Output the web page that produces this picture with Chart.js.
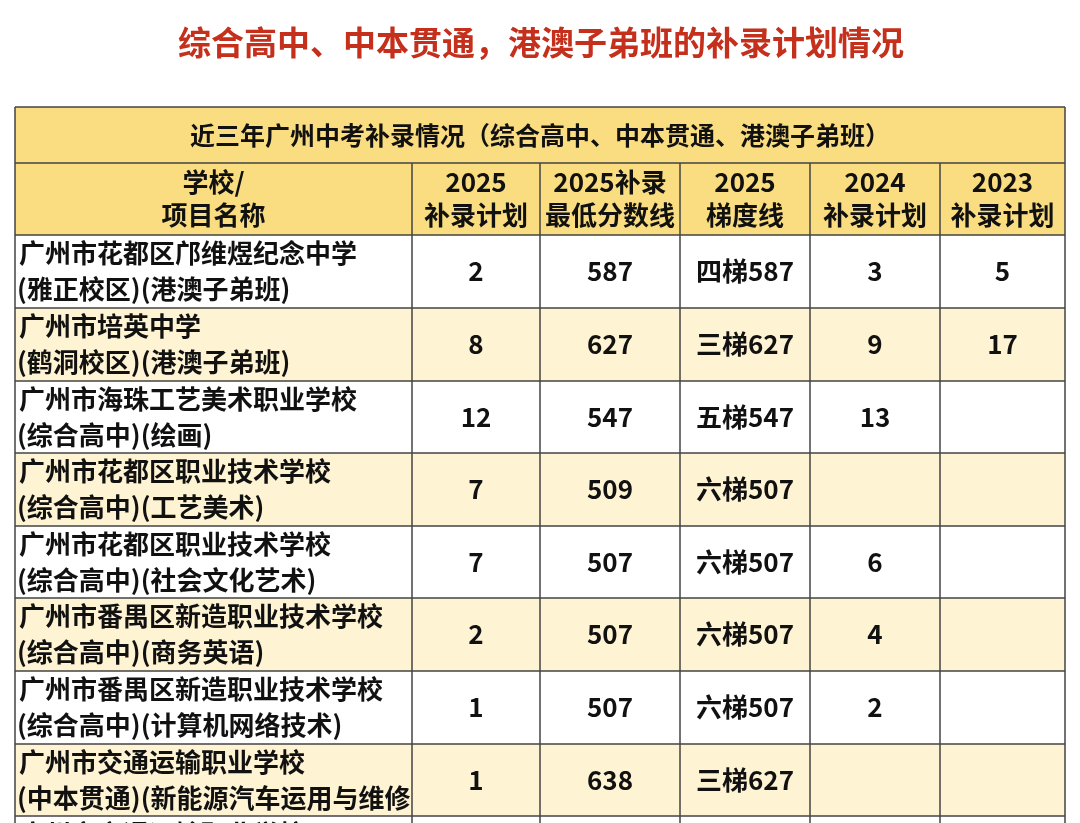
<!DOCTYPE html>
<html><head><meta charset="utf-8">
<script src="https://cdn.jsdelivr.net/npm/chart.js@4/dist/chart.umd.min.js"></script>
<style>html,body{margin:0;padding:0;background:#fff}#c{display:block}</style>
</head><body>
<div style="width:1080px;height:823px"><canvas id="c" width="1080" height="823"></canvas></div>
<script>
const pageTitle = "综合高中、中本贯通，港澳子弟班的补录计划情况";
const tableTitle = "近三年广州中考补录情况（综合高中、中本贯通、港澳子弟班）";
const headers = [["学校/","项目名称"],["2025","补录计划"],["2025补录","最低分数线"],["2025","梯度线"],["2024","补录计划"],["2023","补录计划"]];
const schools = [
 ["广州市花都区邝维煜纪念中学","(雅正校区)(港澳子弟班)"],
 ["广州市培英中学","(鹤洞校区)(港澳子弟班)"],
 ["广州市海珠工艺美术职业学校","(综合高中)(绘画)"],
 ["广州市花都区职业技术学校","(综合高中)(工艺美术)"],
 ["广州市花都区职业技术学校","(综合高中)(社会文化艺术)"],
 ["广州市番禺区新造职业技术学校","(综合高中)(商务英语)"],
 ["广州市番禺区新造职业技术学校","(综合高中)(计算机网络技术)"],
 ["广州市交通运输职业学校","(中本贯通)(新能源汽车运用与维修)"],
 ["广州市交通运输职业学校",""]
];
const plan2025 = ["2","8","12","7","7","2","1","1",""];
const minScore2025 = ["587","627","547","509","507","507","507","638",""];
const gradient2025 = ["四梯587","三梯627","五梯547","六梯507","六梯507","六梯507","六梯507","三梯627",""];
const plan2024 = ["3","9","13","","6","4","2","",""];
const plan2023 = ["5","17","","","","","","",""];
const colEdges = [0,397,525,665,795,925,1050];
const rowEdges = [0,56,128,201,274,346,419,491,564,637,709,790];

const FONT = '"Noto Sans CJK SC","Noto Sans",sans-serif';
const tablePlugin = {
  id:'table',
  afterDraw(chart){
    const ctx = chart.ctx, xs = chart.scales.x, ys = chart.scales.y;
    const X = v=>xs.getPixelForValue(v), Y = v=>ys.getPixelForValue(v);
    ctx.save();
    ctx.fillStyle='#c4301c'; ctx.font='bold 33px '+FONT; ctx.textAlign='center'; ctx.textBaseline='middle';
    ctx.fillText(pageTitle, 541, 42);
    const L=X(colEdges[0]), R=X(colEdges[colEdges.length-1]);
    ctx.fillStyle='#f9dd80';
    ctx.fillRect(L,Y(rowEdges[0]),R-L,Y(rowEdges[2])-Y(rowEdges[0]));
    const rows = schools.map((s,i)=>[s,plan2025[i],minScore2025[i],gradient2025[i],plan2024[i],plan2023[i]]);
    rows.forEach((r,i)=>{
      ctx.fillStyle = i%2===1 ? '#fef3d2' : '#ffffff';
      ctx.fillRect(L,Y(rowEdges[i+2]),R-L,Y(rowEdges[i+3])-Y(rowEdges[i+2]));
    });
    ctx.fillStyle='#111';
    ctx.font='bold 25px '+FONT; ctx.textAlign='center';
    ctx.fillText(tableTitle,(L+R)/2,(Y(rowEdges[0])+Y(rowEdges[1]))/2);
    ctx.font='bold 26px '+FONT;
    headers.forEach((h,c)=>{
      const cx=(X(colEdges[c])+X(colEdges[c+1]))/2, cy=(Y(rowEdges[1])+Y(rowEdges[2]))/2;
      ctx.fillText(h[0],cx,cy-17); ctx.fillText(h[1],cx,cy+16);
    });
    rows.forEach((r,i)=>{
      const top=Y(rowEdges[i+2]), bot=Y(rowEdges[i+3]), cy=top+36.5;
      r.forEach((v,c)=>{
        const x0=X(colEdges[c]), x1=X(colEdges[c+1]);
        ctx.save(); ctx.beginPath(); ctx.rect(x0,top,x1-x0,bot-top); ctx.clip();
        if(c===0){
          ctx.textAlign='left'; ctx.font='bold 26px '+FONT;
          ctx.fillText(v[0],x0+4,cy-18); ctx.fillText(v[1],x0+2,cy+18);
        } else {
          ctx.textAlign='center'; ctx.font='bold 26px '+FONT;
          ctx.fillText(v,(x0+x1)/2,cy);
        }
        ctx.restore();
      });
    });
    ctx.strokeStyle='#444'; ctx.lineWidth=1.5;
    ctx.beginPath();
    rowEdges.slice(0,-1).forEach(r=>{ctx.moveTo(L,Y(r));ctx.lineTo(R,Y(r));});
    ctx.moveTo(L,Y(rowEdges[0])); ctx.lineTo(L,Y(rowEdges[rowEdges.length-1]));
    ctx.moveTo(R,Y(rowEdges[0])); ctx.lineTo(R,Y(rowEdges[rowEdges.length-1]));
    colEdges.slice(1,-1).forEach(c=>{ctx.moveTo(X(c),Y(rowEdges[1]));ctx.lineTo(X(c),Y(rowEdges[rowEdges.length-1]));});
    ctx.stroke();
    ctx.restore();
  }
};
new Chart(document.getElementById('c'),{
  type:'scatter',
  data:{datasets:[{data:[],pointRadius:0}]},
  options:{
    responsive:false, animation:false, devicePixelRatio:1,
    layout:{padding:{left:15,right:15,top:107,bottom:0}},
    plugins:{legend:{display:false},tooltip:{enabled:false},title:{display:false}},
    scales:{
      x:{type:'linear',min:0,max:1050,display:false},
      y:{type:'linear',min:0,max:716,reverse:true,display:false}
    }
  },
  plugins:[tablePlugin]
});
</script>
</body></html>
